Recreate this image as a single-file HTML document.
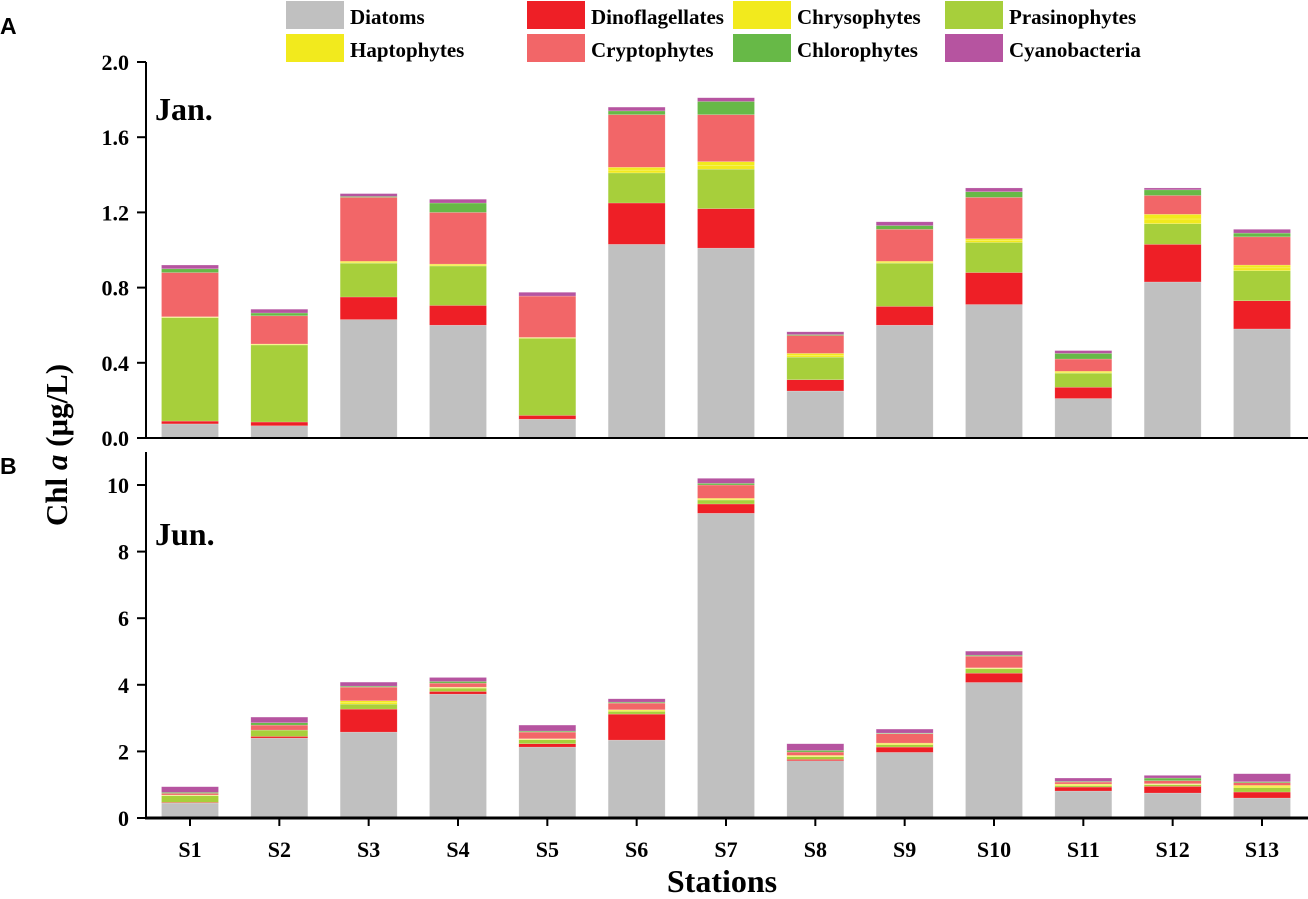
<!DOCTYPE html>
<html><head><meta charset="utf-8"><style>
body{margin:0;background:#fff}
svg text{font-family:"Liberation Serif",serif;font-weight:bold}
</style></head><body>
<svg id="c" width="1308" height="894" xmlns="http://www.w3.org/2000/svg"></svg>
<script>
const stations=["S1","S2","S3","S4","S5","S6","S7","S8","S9","S10","S11","S12","S13"];
const groups=["Diatoms","Dinoflagellates","Prasinophytes","Haptophytes","Chrysophytes","Cryptophytes","Chlorophytes","Cyanobacteria"];
const colors=["#c0c0c0","#ee1f26","#a7cf3b","#f2ea1d","#f2ea1d","#f26668","#67b947","#b654a0"];
// Panel A (Jan.)
const janDiatoms=[0.075,0.065,0.63,0.60,0.10,1.03,1.01,0.25,0.60,0.71,0.21,0.83,0.58];
const janDino=[0.015,0.02,0.12,0.105,0.02,0.22,0.21,0.06,0.10,0.17,0.06,0.20,0.15];
const janPrasino=[0.55,0.41,0.18,0.21,0.41,0.16,0.21,0.12,0.23,0.16,0.075,0.11,0.16];
const janHapto=[0.003,0.003,0.005,0.005,0.003,0.015,0.02,0.01,0.005,0.01,0.005,0.025,0.015];
const janChryso=[0.002,0.002,0.005,0.005,0.002,0.015,0.02,0.01,0.005,0.01,0.005,0.025,0.015];
const janCrypto=[0.235,0.15,0.34,0.275,0.22,0.28,0.25,0.095,0.17,0.22,0.065,0.10,0.15];
const janChloro=[0.02,0.015,0.005,0.05,0.0,0.02,0.07,0.005,0.02,0.03,0.03,0.03,0.02];
const janCyano=[0.02,0.02,0.015,0.02,0.02,0.02,0.02,0.015,0.02,0.02,0.015,0.01,0.02];
// Panel B (Jun.)
const junDiatoms=[0.45,2.40,2.58,3.72,2.13,2.34,9.15,1.72,1.97,4.07,0.81,0.75,0.60];
const junDino=[0.02,0.05,0.69,0.08,0.10,0.78,0.28,0.04,0.16,0.28,0.12,0.20,0.18];
const junPrasino=[0.20,0.19,0.15,0.10,0.12,0.08,0.12,0.08,0.07,0.13,0.04,0.05,0.13];
const junHapto=[0.01,0.0,0.05,0.015,0.015,0.025,0.025,0.02,0.025,0.015,0.025,0.015,0.035];
const junChryso=[0.01,0.0,0.05,0.015,0.015,0.025,0.025,0.02,0.025,0.015,0.025,0.015,0.035];
const junCrypto=[0.05,0.15,0.41,0.12,0.20,0.20,0.40,0.10,0.28,0.35,0.06,0.09,0.08];
const junChloro=[0.03,0.07,0.03,0.05,0.03,0.03,0.05,0.05,0.02,0.03,0.02,0.08,0.03];
const junCyano=[0.17,0.17,0.12,0.12,0.18,0.10,0.15,0.20,0.12,0.12,0.10,0.08,0.24];
const ticksA=[0,0.4,0.8,1.2,1.6,2.0];
const ticksB=[0,2,4,6,8,10];

const NS="http://www.w3.org/2000/svg";
const svg=document.getElementById('c');
function el(t,a,p){const e=document.createElementNS(NS,t);for(const k in a)e.setAttribute(k,a[k]);(p||svg).appendChild(e);return e;}
const X0=146,X1=1308;
function xc(i){return 190+i*(1262-190)/12;}
const BW=57;

function panel(series,ticks,y0,y1,max,fmt,name,label,labelY){
  const g=el('g',{});
  
  
  const ys=v=>y0-(v/max)*(y0-y1);
  stations.forEach((s,i)=>{
    let acc=0;
    series.forEach((arr,k)=>{
      const v=arr[i]; if(v<=0){return;}
      const r=el('rect',{x:xc(i)-BW/2,y:ys(acc+v),width:BW,height:ys(acc)-ys(acc+v),fill:colors[k],stroke:'#fff','stroke-opacity':0.35,'stroke-width':0.5},g);
      
      
      acc+=v;
    });
  });
  el('line',{x1:X0,y1:y0,x2:X0,y2:y1,stroke:'#000','stroke-width':2},g);
  ticks.forEach(t=>{
    const y=ys(t);
    el('line',{x1:X0-9,y1:y,x2:X0,y2:y,stroke:'#000','stroke-width':2},g);
    const tx=el('text',{x:X0-17,y:y+8,'text-anchor':'end','font-size':22},g);
    tx.textContent=fmt(t);
    
    
  });
  const lt=el('text',{x:155,y:labelY,'font-size':32},g);
  lt.textContent=label;
  
  
}
panel([janDiatoms,janDino,janPrasino,janHapto,janChryso,janCrypto,janChloro,janCyano],ticksA,438,62,2.0,t=>t.toFixed(1),'panel-a','Jan.',120);
panel([junDiatoms,junDino,junPrasino,junHapto,junChryso,junCrypto,junChloro,junCyano],ticksB,818,485,10,t=>String(t),'panel-b','Jun.',545);
// axis lines
el('line',{x1:X0,y1:438,x2:X1,y2:438,stroke:'#000','stroke-width':2});
el('line',{x1:X0,y1:452,x2:X0,y2:485,stroke:'#000','stroke-width':2});
el('line',{x1:X0-1,y1:818,x2:X1,y2:818,stroke:'#000','stroke-width':3});
stations.forEach((s,i)=>{
  el('line',{x1:xc(i),y1:818,x2:xc(i),y2:826,stroke:'#000','stroke-width':2});
  const t=el('text',{x:xc(i),y:857,'text-anchor':'middle','font-size':22});
  t.textContent=s;
  
  
});
// legend
const legOrder=[["Diatoms",0],["Dinoflagellates",1],["Chrysophytes",4],["Prasinophytes",2],["Haptophytes",3],["Cryptophytes",5],["Chlorophytes",6],["Cyanobacteria",7]];
const legX=[286,527,733,945];
legOrder.forEach((L,j)=>{
  const c=j%4,r=Math.floor(j/4);
  const g=el('g',{});
  
  
  el('rect',{x:legX[c],y:1+r*33,width:58,height:28,fill:colors[L[1]]},g);
  const t=el('text',{x:legX[c]+64,y:24+r*33,'font-size':21},g);
  t.textContent=L[0];
});
</script>
<svg width="1308" height="894" style="position:absolute;left:0;top:0" xmlns="http://www.w3.org/2000/svg">
<text x="0" y="34" font-size="23" style="font-family:'Liberation Sans',sans-serif;font-weight:bold">A</text>
<text x="0" y="474" font-size="23" style="font-family:'Liberation Sans',sans-serif;font-weight:bold">B</text>
<text transform="translate(67,445) rotate(-90)" text-anchor="middle" font-size="31" style="font-family:'Liberation Serif',serif;font-weight:bold">Chl <tspan font-style="italic">a</tspan> (μg/L)</text>
<text x="722" y="892" text-anchor="middle" font-size="32" style="font-family:'Liberation Serif',serif;font-weight:bold">Stations</text>
</svg>
</body></html>
